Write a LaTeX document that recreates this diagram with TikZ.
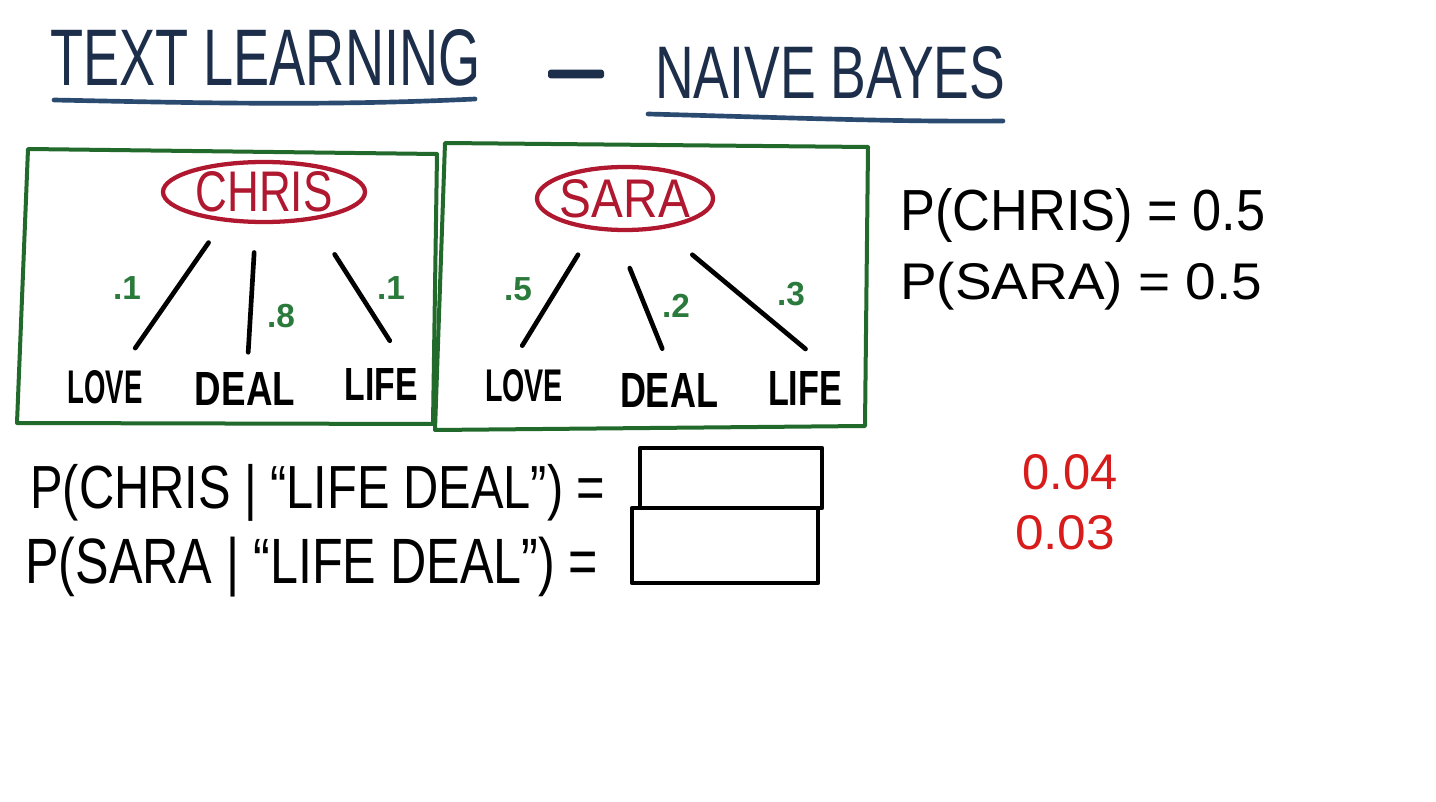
\documentclass[tikz,border=0pt]{standalone}
\usepackage{fontspec}
\setmainfont{Liberation Sans}
\usepackage{graphicx}
\usetikzlibrary{shapes.geometric}

\newdimen\px \px=0.75pt

\definecolor{navyink}{HTML}{1C2E4A}
\definecolor{navyline}{HTML}{2A4A70}
\definecolor{frameink}{HTML}{226A2C}
\definecolor{probink}{HTML}{2A7A3C}
\definecolor{classink}{HTML}{B01830}
\definecolor{answerink}{HTML}{D81C1C}

\tikzset{
	framebox/.style={draw=frameink, line width=3pt, line join=round},
	uline/.style={draw=navyline, line width=3.5pt, line cap=round},
	classnode/.style={ellipse, draw=classink, line width=3.2pt, text=classink, inner xsep=-6pt, inner ysep=0pt, outer sep=0pt},
	wordnode/.style={inner sep=0pt, font=\bfseries},
	branch/.style={draw=black, line width=3.5pt, line cap=round},
	prob/.style={inner sep=0pt, text=probink, font=\fontsize{25}{25}\selectfont\bfseries},
	answerbox/.style={draw=black, line width=3.5pt, inner sep=0pt, line join=round},
	ansval/.style={inner sep=0pt, text=answerink}
}

\begin{document}
\begin{tikzpicture}[x=0.75pt,y=0.75pt,yscale=-1,xscale=1]
	\useasboundingbox (0,0) rectangle (1436,802);
	\fill[white] (0,0) rectangle (1436,802);

	% Text Node
	\node (ttla) [anchor=west, inner sep=0pt, text=navyink] at (50,58) {\resizebox{430\px}{56\px}{TEXT LEARNING}};
	%Shape: Rectangle
	\node (ttldash) [fill=navyink, rounded corners=2pt, minimum width=42pt, minimum height=6.5pt, inner sep=0pt] at (576,74) {};
	% Text Node
	\node (ttlb) [anchor=west, inner sep=0pt, text=navyink] at (655,73) {\resizebox{350\px}{52\px}{NAIVE BAYES}};

	%Curve Lines
	\draw[uline] (54,100) .. controls (200,103) and (330,106) .. (475,99);
	%Curve Lines
	\draw[uline] (648,114) .. controls (800,118) and (900,122) .. (1003,121);

	%Shape: Rectangle
	\draw[framebox] (28,149) -- (437,154) -- (433,424) -- (17,423) -- cycle;
	%Shape: Rectangle
	\draw[framebox] (445,143) -- (868,147) -- (865,426) -- (435,430) -- cycle;

	%Shape: Ellipse
	\node (chris) [classnode, minimum width=151.5pt, minimum height=45pt] at (264,192) {\resizebox{137\px}{40\px}{CHRIS}};
	%Shape: Ellipse
	\node (sara) [classnode, minimum width=132pt, minimum height=47.25pt] at (625,198.5) {\resizebox{130\px}{38\px}{SARA}};

	% Text Node
	\node (love1) [wordnode] at (105,387) {\resizebox{75\px}{33\px}{LOVE}};
	\node (deal1) [wordnode] at (245,389) {\resizebox{100\px}{33\px}{DEAL}};
	\node (life1) [wordnode] at (381,384) {\resizebox{73\px}{32\px}{LIFE}};
	\node (love2) [wordnode] at (524,386) {\resizebox{78\px}{32\px}{LOVE}};
	\node (deal2) [wordnode] at (669,390) {\resizebox{98\px}{34\px}{DEAL}};
	\node (life2) [wordnode] at (805,388) {\resizebox{74\px}{34\px}{LIFE}};

	%Straight Lines
	\draw[branch, shorten <=21pt, shorten >=20pt] (chris.215) -- ([xshift=11.25pt]love1.north);
	\draw[branch, shorten <=23pt, shorten >=15pt] (chris.255) -- ([xshift=1.5pt]deal1.north);
	\draw[branch, shorten <=32pt, shorten >=24pt] (chris.-29) -- ([xshift=19.5pt]life1.north);
	%Straight Lines
	\draw[branch, shorten <=23.5pt, shorten >=21pt] (sara.224) -- ([xshift=-12.3pt]love2.north);
	\draw[branch, shorten <=31pt, shorten >=19.5pt] (sara.251) -- ([xshift=2.25pt]deal2.north);
	\draw[branch, shorten <=32pt, shorten >=25.5pt] (sara.-40) -- ([xshift=20pt]life2.north);

	% Text Node
	\node (p11) [prob] at (127,288) {.1};
	\node (p12) [prob] at (281,316) {.8};
	\node (p13) [prob] at (391,288) {.1};
	\node (p21) [prob] at (518,289) {.5};
	\node (p22) [prob] at (676,306) {.2};
	\node (p23) [prob] at (791,294) {.3};

	% Text Node
	\node (priorc) [anchor=west, inner sep=0pt] at (900,215) {\resizebox*{365\px}{54\px}{P(CHRIS) = 0.5}};
	\node (priors) [anchor=west, inner sep=0pt] at (900,286) {\resizebox*{362\px}{48\px}{P(SARA) = 0.5}};

	% Text Node
	\node (postc) [anchor=west, inner sep=0pt] at (30,493) {\resizebox*{575\px}{57\px}{P(CHRIS | “LIFE DEAL”) =}};
	\node (posts) [anchor=west, inner sep=0pt] at (25,567) {\resizebox*{573\px}{60\px}{P(SARA | “LIFE DEAL”) =}};

	%Shape: Rectangle
	\node (ansc) [answerbox, minimum width=136.5pt, minimum height=45pt] at (731,478) {};
	\node (anss) [answerbox, minimum width=139.5pt, minimum height=56.25pt] at (725,545.5) {};

	% Text Node
	\node (valc) [ansval] at (1070,472) {\resizebox{95\px}{35\px}{0.04}};
	\node (vals) [ansval] at (1065,533) {\resizebox{100\px}{34\px}{0.03}};
\end{tikzpicture}
\end{document}
